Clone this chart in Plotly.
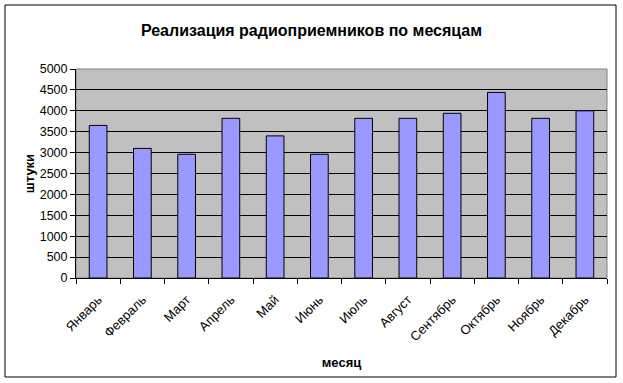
import plotly.graph_objects as go

months = ["Январь", "Февраль", "Март", "Апрель", "Май", "Июнь",
          "Июль", "Август", "Сентябрь", "Октябрь", "Ноябрь", "Декабрь"]
sales = [3650, 3100, 2960, 3820, 3400, 2960, 3820, 3820, 3940, 4440, 3820, 4000]
y_ticks = list(range(0, 5001, 500))

W, H = 623, 383
L, R, T, B = 76, 607, 69, 278

fig = go.Figure(go.Bar(
    x=months, y=sales,
    marker=dict(color="#9999FF", line=dict(color="black", width=1)),
))

fig.update_layout(
    width=W, height=H,
    margin=dict(l=L, r=W - R, t=T, b=H - B),
    paper_bgcolor="white",
    plot_bgcolor="#C0C0C0",
    bargap=0.6,
    showlegend=False,
    font=dict(family="Liberation Sans, Arial", size=12, color="black"),
    title=dict(text="<b>Реализация радиоприемников по месяцам</b>",
               x=0.5, xanchor="center", y=1 - 30 / H, yanchor="middle",
               font=dict(size=16)),
    xaxis=dict(
        type="category", tickangle=-45, showline=True, linecolor="black",
        linewidth=1, ticks="outside", tickson="boundaries", ticklen=5,
        tickcolor="black", showgrid=False, ticklabelstandoff=8,
        tickfont=dict(size=13),
        title=dict(text="<b>месяц</b>", font=dict(size=13), standoff=14),
    ),
    yaxis=dict(
        range=[0, 5000], tickvals=y_ticks, showline=True, linecolor="black",
        linewidth=1, ticks="outside", ticklen=5, tickcolor="black",
        showgrid=True, gridcolor="black", gridwidth=1, zeroline=False,
        tickfont=dict(size=12.5),
        title=dict(text="<b>штуки</b>", font=dict(size=13), standoff=2),
    ),
)

# plot-area border (gray) and outer chart border (black)
fig.add_shape(type="rect", xref="paper", yref="paper", x0=0, y0=0, x1=1, y1=1,
              line=dict(color="#808080", width=1), layer="below")
fig.add_shape(type="rect", xref="paper", yref="paper",
              x0=(5 - L) / (R - L), x1=(616 - L) / (R - L),
              y0=(B - 377) / (B - T), y1=(B - 5) / (B - T),
              line=dict(color="black", width=1))

fig.write_html("out.html")
